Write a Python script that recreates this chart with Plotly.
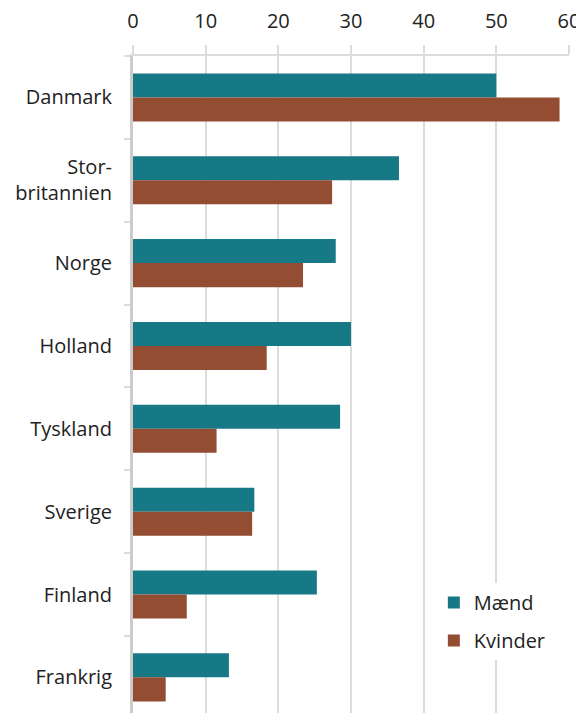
import plotly.graph_objects as go

categories = ["Danmark", "Stor-<br>britannien", "Norge", "Holland", "Tyskland", "Sverige", "Finland", "Frankrig"]
maend = [50.0, 36.6, 27.9, 30.0, 28.5, 16.7, 25.3, 13.2]
kvinder = [58.7, 27.4, 23.4, 18.4, 11.5, 16.4, 7.4, 4.5]
x_ticks = [0, 10, 20, 30, 40, 50, 60]

TEAL = "#177985"
BROWN = "#924d33"
GRID = "#dcdcdc"
FONT = "Open Sans"
TXT = "#222222"

fig = go.Figure()
fig.add_trace(go.Bar(y=categories, x=maend, orientation="h", name="Mænd",
                     legendgroup="m", marker=dict(color=TEAL, line=dict(width=0))))
fig.add_trace(go.Bar(y=categories, x=kvinder, orientation="h", name="Kvinder",
                     legendgroup="k", marker=dict(color=BROWN, line=dict(width=0))))

# page body has an 8px margin, so the figure is sized/offset to compensate
fig.update_layout(
    width=576, height=705,
    margin=dict(l=125, r=15, t=48, b=0, autoexpand=False),
    paper_bgcolor="white", plot_bgcolor="white",
    barmode="group", bargap=0.42, bargroupgap=0,
    font=dict(family=FONT, size=20, color=TXT),
    showlegend=True,
    legend=dict(x=0.69, y=0.198, xanchor="left", yanchor="top",
                bgcolor="white", font=dict(size=20, color=TXT),
                itemwidth=30, tracegroupgap=9, traceorder="grouped"),
    xaxis=dict(side="top", range=[0, 60], tickvals=x_ticks,
               showgrid=True, gridcolor=GRID, gridwidth=2,
               showline=True, linecolor=GRID, linewidth=2,
               ticks="outside", ticklen=9, tickcolor=GRID, tickwidth=2,
               ticklabelstandoff=9, zeroline=False, automargin=False,
               tickfont=dict(size=20, color=TXT)),
    yaxis=dict(type="category", categoryorder="array", categoryarray=categories,
               range=[7.43, -0.5], automargin=False,
               showline=True, linecolor="#cccccc", linewidth=3,
               ticks="outside", ticklen=6, tickcolor=GRID, tickwidth=2,
               tickson="boundaries", showgrid=False, zeroline=False,
               ticklabelstandoff=14,
               tickfont=dict(size=20, color=TXT)),
)

fig.write_html("out.html")
